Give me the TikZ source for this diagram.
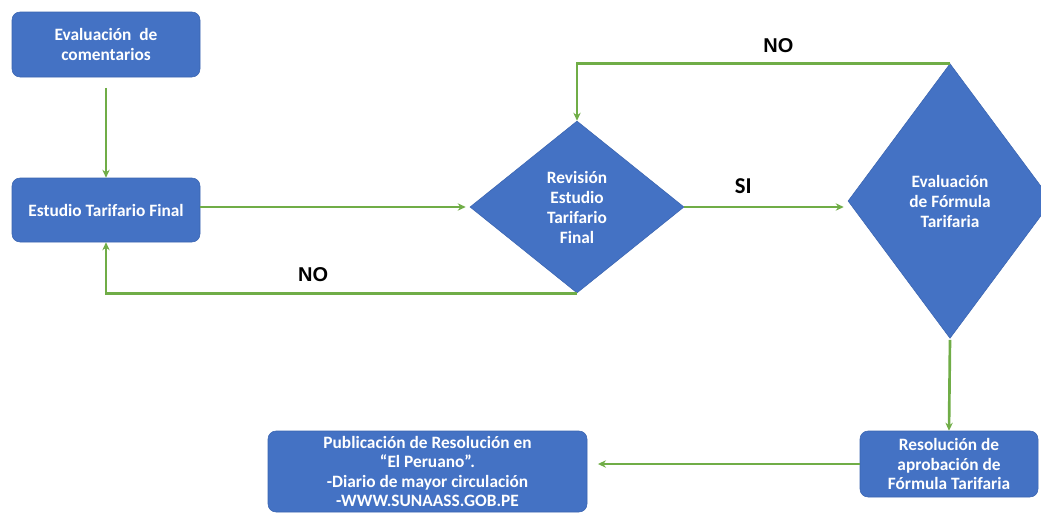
\documentclass[tikz,border=0pt]{standalone}
\usepackage{fontspec}
\setmainfont{Carlito}
\newfontfamily\labelfont{Liberation Sans}
\usetikzlibrary{shapes.geometric, arrows.meta, positioning}
\definecolor{boxblue}{HTML}{4472C4}
\definecolor{boxedge}{HTML}{3A64B0}
\definecolor{linegreen}{HTML}{70AD47}
\tikzstyle{arrow} = [draw=linegreen, line width=2pt, -{Stealth[length=6pt, width=5.5pt]}]

\begin{document}
\begin{tikzpicture}[x=0.75pt, y=-0.75pt]
		\tikzstyle{process} = [rectangle, rounded corners=6pt, text centered, align=center, draw=boxedge, fill=boxblue, text=white, font=\fontsize{13}{14.5}\selectfont\bfseries, inner sep=2pt]
		\tikzstyle{decision} = [diamond, text centered, align=center, draw=boxedge, fill=boxblue, text=white, font=\fontsize{13}{15}\selectfont\bfseries, inner sep=0pt]
		\tikzstyle{answer} = [text=black, font=\labelfont\fontsize{15}{18}\selectfont\bfseries]
		\useasboundingbox (0,0) rectangle (1041,514);
		\node (comentarios) [process, minimum width=141pt, minimum height=48.75pt] at (106,44.5) {Evaluación~ de\\comentarios};
		\node (estudio) [process, minimum width=141pt, minimum height=48pt] at (106,210) {Estudio Tarifario Final};
		\node (revision) [decision, minimum width=160.5pt, minimum height=129pt] at (577,207) {Revisión\\Estudio\\Tarifario\\Final};
		\node (formula) [decision, minimum width=153pt, minimum height=206pt] at (950,201) {Evaluación\\de Fórmula\\Tarifaria};
		\node (resolucion) [process, minimum width=133.5pt, minimum height=49.5pt] at (949,464) {Resolución de\\aprobación de\\Fórmula Tarifaria};
		\node (publicacion) [process, minimum width=239.25pt, minimum height=60.75pt] at (427.5,471.5) {Publicación de Resolución en\\“El Peruano”.\\-Diario de mayor circulación\\-WWW.SUNAASS.GOB.PE};

		\path [arrow, shorten <=8pt] (comentarios) -- (estudio);
		\path [arrow, shorten >=3pt] (estudio.east |- revision.west) -- (revision.west);
		\path [arrow, shorten >=3pt] (revision.east) -- node[above=6pt, text=black, font=\fontsize{17}{20}\selectfont\bfseries, xshift=-17pt] {SI} (revision.east -| formula.west);
		\path [arrow] (formula.north) -| node[above=4pt, answer, pos=0.23] {NO} (revision.north);
		\path [arrow] (revision.south) -| node[above=4pt, answer, pos=0.28] {NO} (estudio.south);
		\path [arrow, shorten <=1pt] (formula.south) -- (resolucion.north);
		\path [arrow, shorten >=8pt] (resolucion.west) -- (resolucion.west -| publicacion.east);
	\end{tikzpicture}
\end{document}
